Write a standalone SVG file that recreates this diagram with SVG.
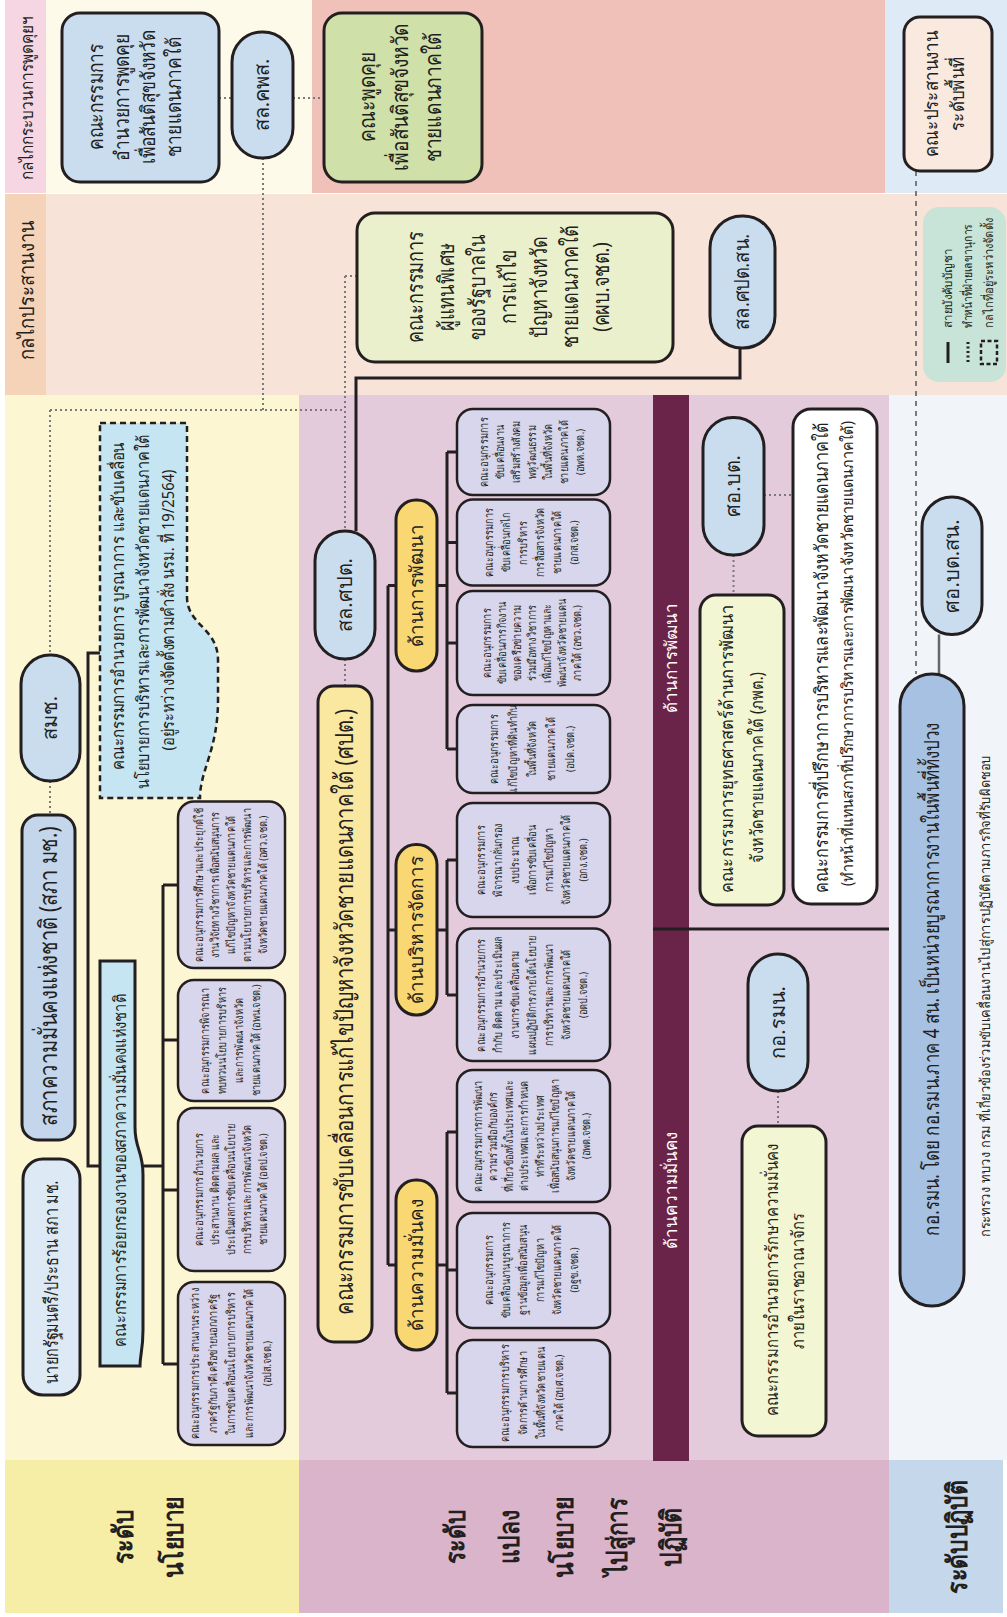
<svg xmlns="http://www.w3.org/2000/svg" width="1007" height="1617" viewBox="0 0 1007 1617">
<style>
.t{font-family:"Noto Sans","DejaVu Sans",sans-serif;text-anchor:middle;fill:#231F20}
.st{text-anchor:start}
.b{font-weight:bold}
.w{fill:#ffffff}
.bx{stroke:#231F20;stroke-width:3}
.pill{fill:#C9DDEE;stroke:#231F20;stroke-width:3}
.pur{fill:#D8D6EC;stroke:#231F20;stroke-width:2.5}
.dan{fill:#F9D874;stroke:#231F20;stroke-width:3}
.ln{stroke:#231F20;stroke-width:3;fill:none}
.dot{stroke:#7a7a7a;stroke-width:2;stroke-dasharray:2 3;fill:none}
.dash{stroke:#7a7a7a;stroke-width:2;stroke-dasharray:5 5;fill:none}
</style>
<rect width="1007" height="1617" fill="#ffffff"/>
<g id="bands">
<rect x="5" y="0" width="41" height="193" fill="#F6D6E2"/>
<rect x="46" y="0" width="266" height="193" fill="#FDFAEA"/>
<rect x="312" y="0" width="573" height="193" fill="#F0C1B8"/>
<rect x="885" y="0" width="122" height="193" fill="#DEEBF6"/>
<rect x="5" y="194" width="41" height="201" fill="#F4D3B9"/>
<rect x="46" y="194" width="961" height="201" fill="#F8E3D9"/>
<rect x="5" y="395" width="294" height="1065" fill="#FDF6D3"/>
<rect x="299" y="395" width="590" height="1065" fill="#E4CBDB"/>
<rect x="889" y="395" width="118" height="1065" fill="#F1F5FA"/>
<rect x="5" y="1460" width="294" height="153" fill="#F6EDA7"/>
<rect x="299" y="1460" width="590" height="153" fill="#D9B4CA"/>
<rect x="889" y="1460" width="114" height="153" fill="#C5D7EB"/>
<rect x="653" y="395" width="36" height="1066" fill="#6B2449"/>
<text class="t" transform="translate(27,98) rotate(-90)" font-size="17" y="5.6" textLength="164" lengthAdjust="spacingAndGlyphs">กลไกกระบวนการพูดคุยฯ</text>
<text class="t" transform="translate(27,290) rotate(-90)" font-size="20" y="6.6" textLength="140" lengthAdjust="spacingAndGlyphs">กลไกประสานงาน</text>
<text class="t w" transform="translate(671,658) rotate(-90)" font-size="17"><tspan x="0" y="5.6">ด้านการพัฒนา</tspan></text>
<text class="t w" transform="translate(671,1190) rotate(-90)" font-size="17"><tspan x="0" y="5.6">ด้านความมั่นคง</tspan></text>
<text class="t b" transform="translate(149,1537) rotate(-90) scale(0.82,1)" font-size="28"><tspan x="0" y="-15.8">ระดับ</tspan><tspan x="0" y="34.2">นโยบาย</tspan></text>
<text class="t b" transform="translate(564,1537) rotate(-90) scale(0.82,1)" font-size="28"><tspan x="0" y="-98.8">ระดับ</tspan><tspan x="0" y="-44.8">แปลง</tspan><tspan x="0" y="9.2">นโยบาย</tspan><tspan x="0" y="63.2">ไปสู่การ</tspan><tspan x="0" y="117.2">ปฏิบัติ</tspan></text>
<text class="t b" transform="translate(958,1537) rotate(-90) scale(0.82,1)" font-size="28"><tspan x="0" y="9.2">ระดับปฏิบัติ</tspan></text>
</g>
<g id="connectors">
<line x1="653" y1="929" x2="889" y2="929" class="ln"/>
<path class="dot" d="M219,98 H232 M293,98 H324 M263,158 V410 M50,410 H345 M345,276 V531 M345,276 H357 M50,410 V655 M50,781 V815 M345,659 V686 M764,495 H793 M733.5,555 V595 M778,1091 V1126"/>
<path class="dash" d="M916,171 V674"/>
<path d="M939,634.5 V674" stroke="#666" stroke-width="2.5" fill="none"/>
<path class="ln" d="M740,348 V378 H356 V531"/>
<path class="ln" d="M100,653 H88 V1166 H100 M141,1166 H163 M163,885 V1364 M163,885 H178 M163,1040 H178 M163,1190 H178 M163,1364 H178"/>
<path class="ln" d="M388,585.5 V1265 M388,585.5 H396 M388,930 H396 M388,1265 H396"/>
<path class="ln" d="M437,585.5 H447 M447,452 V749 M447,452 H457 M447,542.5 H457 M447,643 H457 M447,749 H457"/>
<path class="ln" d="M437,930 H447 M447,860 V995 M447,860 H457 M447,995 H457"/>
<path class="ln" d="M437,1265 H447 M447,1132 V1393 M447,1132 H457 M447,1270 H457 M447,1393 H457"/>
</g>
<g id="n-committee-dialogue-direct">
<rect x="62" y="13" width="157" height="169" rx="18" fill="#C9DDEE" class="bx"/>
<text class="t" transform="translate(135,97) rotate(-90) scale(0.87,1)" font-size="20"><tspan x="0" y="-32.4">คณะกรรมการ</tspan><tspan x="0" y="-6.4">อำนวยการพูดคุย</tspan><tspan x="0" y="19.6">เพื่อสันติสุขจังหวัด</tspan><tspan x="0" y="45.6">ชายแดนภาคใต้</tspan></text>
</g>
<g id="n-sl-kps">
<rect x="232" y="32" width="61" height="126" rx="30" class="pill"/>
<text class="t" transform="translate(262.5,95) rotate(-90)" font-size="20"><tspan x="0" y="6.6">สล.คพส.</tspan></text>
</g>
<g id="n-dialogue-panel">
<rect x="324" y="13" width="158" height="169" rx="18" fill="#CFE0A8" class="bx"/>
<text class="t" transform="translate(400,97) rotate(-90) scale(0.83,1)" font-size="23"><tspan x="0" y="-25.4">คณะพูดคุย</tspan><tspan x="0" y="7.6">เพื่อสันติสุขจังหวัด</tspan><tspan x="0" y="40.6">ชายแดนภาคใต้</tspan></text>
</g>
<g id="n-area-coord">
<rect x="904" y="17" width="88" height="154" rx="16" fill="#FAE9DE" class="bx"/>
<text class="t" transform="translate(945,94) rotate(-90) scale(0.89,1)" font-size="19"><tspan x="0" y="-6.7">คณะประสานงาน</tspan><tspan x="0" y="19.3">ระดับพื้นที่</tspan></text>
</g>
<g id="n-special-rep">
<rect x="357" y="213" width="316" height="149" rx="18" fill="#EAF0CB" class="bx"/>
<text class="t" transform="translate(509,287) rotate(-90) scale(0.82,1)" font-size="22"><tspan x="0" y="-85.7">คณะกรรมการ</tspan><tspan x="0" y="-54.7">ผู้แทนพิเศษ</tspan><tspan x="0" y="-23.7">ของรัฐบาลใน</tspan><tspan x="0" y="7.3">การแก้ไข</tspan><tspan x="0" y="38.3">ปัญหาจังหวัด</tspan><tspan x="0" y="69.3">ชายแดนภาคใต้</tspan><tspan x="0" y="100.3">(คผบ.จชต.)</tspan></text>
</g>
<g id="n-sl-spt-sn">
<rect x="710" y="216" width="65" height="132" rx="32" class="pill"/>
<text class="t" transform="translate(742.5,282) rotate(-90) scale(0.92,1)" font-size="20"><tspan x="0" y="6.6">สล.ศปต.สน.</tspan></text>
</g>
<g id="n-legend">
<rect x="923" y="207" width="83" height="175" rx="16" fill="#C8E4D9"/>
<path d="M948,342 V363" stroke="#231F20" stroke-width="3"/>
<path d="M968,342 V363" stroke="#231F20" stroke-width="3" stroke-dasharray="2 2.5"/>
<rect x="981" y="341" width="16" height="23" fill="none" stroke="#231F20" stroke-width="2.5" stroke-dasharray="4 2.5"/>
<text class="t st" transform="translate(948,328) rotate(-90)" font-size="12.5" y="4.1" textLength="79" lengthAdjust="spacingAndGlyphs">สายบังคับบัญชา</text>
<text class="t st" transform="translate(968,328) rotate(-90)" font-size="12.5" y="4.1" textLength="104" lengthAdjust="spacingAndGlyphs">ทำหน้าที่ฝ่ายเลขานุการ</text>
<text class="t st" transform="translate(989,328) rotate(-90)" font-size="12.5" y="4.1" textLength="110" lengthAdjust="spacingAndGlyphs">กลไกที่อยู่ระหว่างจัดตั้ง</text>
</g>
<g id="n-smch">
<rect x="21" y="655" width="59" height="126" rx="29" class="pill"/>
<text class="t" transform="translate(50.5,718) rotate(-90)" font-size="20"><tspan x="0" y="6.6">สมช.</tspan></text>
</g>
<g id="n-nsc">
<rect x="22" y="815" width="53" height="325" rx="16" fill="#C3D6EB" class="bx"/>
<text class="t" transform="translate(48.5,976) rotate(-90)" font-size="25" y="8.3" textLength="299" lengthAdjust="spacingAndGlyphs">สภาความมั่นคงแห่งชาติ (สภา มช.)</text>
</g>
<g id="n-pm">
<rect x="23" y="1159" width="57" height="236" rx="20" fill="#DDEAF6" class="bx"/>
<text class="t" transform="translate(51.5,1282) rotate(-90)" font-size="19" y="6.3" textLength="203" lengthAdjust="spacingAndGlyphs">นายกรัฐมนตรี/ประธาน สภา มช.</text>
</g>
<g id="n-policy-exec">
<path d="M100,423 H187 V597 C187,625 218,628 218,660 V700 C218,750 200,770 200,798 H100 Z" fill="#C6E5F3" stroke="#231F20" stroke-width="2.5" stroke-dasharray="6 4"/>
<text class="t" transform="translate(118,606) rotate(-90)" font-size="17" y="5.6" textLength="328" lengthAdjust="spacingAndGlyphs">คณะกรรมการอำนวยการ บูรณาการ และขับเคลื่อน</text>
<text class="t" transform="translate(143,612) rotate(-90)" font-size="17" y="5.6" textLength="354" lengthAdjust="spacingAndGlyphs">นโยบายการบริหารและการพัฒนาจังหวัดชายแดนภาคใต้</text>
<text class="t" transform="translate(168,610) rotate(-90)" font-size="17" y="5.6" textLength="281" lengthAdjust="spacingAndGlyphs" fill="#444">(อยู่ระหว่างจัดตั้งตามคำสั่ง นรม. ที่ 19/2564)</text>
</g>
<g id="n-screening">
<path d="M100,961 H135 V1127 C135,1150 143,1150 143,1175 V1330 C143,1350 140,1355 140,1366 H100 Z" fill="#C6E5F3" class="bx"/>
<text class="t" transform="translate(120,1170) rotate(-90)" font-size="17" y="5.6" textLength="353" lengthAdjust="spacingAndGlyphs">คณะกรรมการร้อยกรองงานของสภาความมั่นคงแห่งชาติ</text>
</g>
<g id="n-p1">
<rect x="178" y="801.5" width="107" height="166.5" rx="16" class="pur"/>
<text class="t" transform="translate(231,885) rotate(-90) scale(0.8,1)" font-size="11.5"><tspan x="0" y="-28.2">คณะอนุกรรมการศึกษาและประยุกต์ใช้</tspan><tspan x="0" y="-12.2">งานวิจัยทางวิชาการเพื่อสนับสนุนการ</tspan><tspan x="0" y="3.8">แก้ไขปัญหาจังหวัดชายแดนภาคใต้</tspan><tspan x="0" y="19.8">ตามนโยบายการบริหารและการพัฒนา</tspan><tspan x="0" y="35.8">จังหวัดชายแดนภาคใต้ (อศว.จชต.)</tspan></text>
</g>
<g id="n-p2">
<rect x="178" y="980" width="107" height="121" rx="16" class="pur"/>
<text class="t" transform="translate(231,1040.5) rotate(-90) scale(0.8,1)" font-size="11.5"><tspan x="0" y="-21.7">คณะอนุกรรมการพิจารณา</tspan><tspan x="0" y="-4.7">ทบทวนนโยบายการบริหาร</tspan><tspan x="0" y="12.3">และการพัฒนาจังหวัด</tspan><tspan x="0" y="29.3">ชายแดนภาคใต้ (อพน.จชต.)</tspan></text>
</g>
<g id="n-p3">
<rect x="178" y="1108" width="107" height="163" rx="16" class="pur"/>
<text class="t" transform="translate(231,1189.5) rotate(-90) scale(0.8,1)" font-size="11.5"><tspan x="0" y="-28.2">คณะอนุกรรมการอำนวยการ</tspan><tspan x="0" y="-12.2">ประสานงาน ติดตามผล และ</tspan><tspan x="0" y="3.8">ประเมินผลการขับเคลื่อนนโยบาย</tspan><tspan x="0" y="19.8">การบริหารและการพัฒนาจังหวัด</tspan><tspan x="0" y="35.8">ชายแดนภาคใต้ (อตป.จชต.)</tspan></text>
</g>
<g id="n-p4">
<rect x="178" y="1282" width="107" height="163" rx="16" class="pur"/>
<text class="t" transform="translate(231,1363.5) rotate(-90) scale(0.8,1)" font-size="11.5"><tspan x="0" y="-32.2">คณะอนุกรรมการประสานงานระหว่าง</tspan><tspan x="0" y="-14.2">ภาครัฐกับภาคีเครือข่ายนอกภาครัฐ</tspan><tspan x="0" y="3.8">ในการขับเคลื่อนนโยบายการบริหาร</tspan><tspan x="0" y="21.8">และการพัฒนาจังหวัดชายแดนภาคใต้</tspan><tspan x="0" y="39.8">(อปส.จชต.)</tspan></text>
</g>
<g id="n-sl-spt">
<rect x="315" y="531" width="60" height="128" rx="30" class="pill"/>
<text class="t" transform="translate(345,595) rotate(-90)" font-size="20"><tspan x="0" y="6.6">สล.ศปต.</tspan></text>
</g>
<g id="n-spt">
<rect x="318" y="686" width="54" height="656" rx="16" fill="#FAE8A0" class="bx"/>
<text class="t" transform="translate(345,1012) rotate(-90)" font-size="25" y="8.3" textLength="606" lengthAdjust="spacingAndGlyphs">คณะกรรมการขับเคลื่อนการแก้ไขปัญหาจังหวัดชายแดนภาคใต้ (ศปต.)</text>
</g>
<g id="n-dev">
<rect x="396" y="500" width="41" height="171" rx="20" class="dan"/>
<text class="t" transform="translate(416.5,585.5) rotate(-90)" font-size="19"><tspan x="0" y="6.3">ด้านการพัฒนา</tspan></text>
</g>
<g id="n-admin">
<rect x="396" y="844.5" width="41" height="170.5" rx="20" class="dan"/>
<text class="t" transform="translate(416.5,930) rotate(-90)" font-size="19"><tspan x="0" y="6.3">ด้านบริหารจัดการ</tspan></text>
</g>
<g id="n-sec">
<rect x="396" y="1180" width="41" height="170" rx="20" class="dan"/>
<text class="t" transform="translate(416.5,1265) rotate(-90)" font-size="19"><tspan x="0" y="6.3">ด้านความมั่นคง</tspan></text>
</g>
<g id="n-a">
<rect x="457" y="409" width="153" height="86" rx="16" class="pur"/>
<text class="t" transform="translate(532,452) rotate(-90) scale(0.8,1)" font-size="11.5"><tspan x="0" y="-44.2">คณะอนุกรรมการ</tspan><tspan x="0" y="-28.2">ขับเคลื่อนงาน</tspan><tspan x="0" y="-12.2">เสริมสร้างสังคม</tspan><tspan x="0" y="3.8">พหุวัฒนธรรม</tspan><tspan x="0" y="19.8">ในพื้นที่จังหวัด</tspan><tspan x="0" y="35.8">ชายแดนภาคใต้</tspan><tspan x="0" y="51.8">(อพห.จชต.)</tspan></text>
</g>
<g id="n-b">
<rect x="457" y="499.5" width="153" height="86" rx="16" class="pur"/>
<text class="t" transform="translate(532,542.5) rotate(-90) scale(0.8,1)" font-size="11.5"><tspan x="0" y="-38.7">คณะอนุกรรมการ</tspan><tspan x="0" y="-21.7">ขับเคลื่อนกลไก</tspan><tspan x="0" y="-4.7">การบริหาร</tspan><tspan x="0" y="12.3">การสื่อสารจังหวัด</tspan><tspan x="0" y="29.3">ชายแดนภาคใต้</tspan><tspan x="0" y="46.3">(อกส.จชต.)</tspan></text>
</g>
<g id="n-c">
<rect x="457" y="591" width="153" height="104" rx="16" class="pur"/>
<text class="t" transform="translate(532,643) rotate(-90) scale(0.8,1)" font-size="11.5"><tspan x="0" y="-41.2">คณะอนุกรรมการ</tspan><tspan x="0" y="-26.2">ขับเคลื่อนภารกิจงาน</tspan><tspan x="0" y="-11.2">ของเครือข่ายความ</tspan><tspan x="0" y="3.8">ร่วมมือทางวิชาการ</tspan><tspan x="0" y="18.8">เพื่อแก้ไขปัญหาและ</tspan><tspan x="0" y="33.8">พัฒนาจังหวัดชายแดน</tspan><tspan x="0" y="48.8">ภาคใต้ (อขว.จชต.)</tspan></text>
</g>
<g id="n-d">
<rect x="457" y="705" width="153" height="88" rx="16" class="pur"/>
<text class="t" transform="translate(532,749) rotate(-90) scale(0.8,1)" font-size="11.5"><tspan x="0" y="-34.2">คณะอนุกรรมการ</tspan><tspan x="0" y="-15.2">แก้ไขปัญหาที่ดินทำกิน</tspan><tspan x="0" y="3.8">ในพื้นที่จังหวัด</tspan><tspan x="0" y="22.8">ชายแดนภาคใต้</tspan><tspan x="0" y="41.8">(อปด.จชต.)</tspan></text>
</g>
<g id="n-e">
<rect x="457" y="803" width="153" height="114" rx="16" class="pur"/>
<text class="t" transform="translate(532,860) rotate(-90) scale(0.8,1)" font-size="11.5"><tspan x="0" y="-47.2">คณะอนุกรรมการ</tspan><tspan x="0" y="-30.2">พิจารณากลั่นกรอง</tspan><tspan x="0" y="-13.2">งบประมาณ</tspan><tspan x="0" y="3.8">เพื่อการขับเคลื่อน</tspan><tspan x="0" y="20.8">การแก้ไขปัญหา</tspan><tspan x="0" y="37.8">จังหวัดชายแดนภาคใต้</tspan><tspan x="0" y="54.8">(อกง.จชต.)</tspan></text>
</g>
<g id="n-f">
<rect x="457" y="928.6" width="153" height="132.4" rx="16" class="pur"/>
<text class="t" transform="translate(532,995) rotate(-90) scale(0.8,1)" font-size="11.5"><tspan x="0" y="-47.2">คณะอนุกรรมการอำนวยการ</tspan><tspan x="0" y="-30.2">กำกับ ติดตาม และประเมินผล</tspan><tspan x="0" y="-13.2">งานการขับเคลื่อนตาม</tspan><tspan x="0" y="3.8">แผนปฏิบัติการภายใต้นโยบาย</tspan><tspan x="0" y="20.8">การบริหารและการพัฒนา</tspan><tspan x="0" y="37.8">จังหวัดชายแดนภาคใต้</tspan><tspan x="0" y="54.8">(อตป.จชต.)</tspan></text>
</g>
<g id="n-g">
<rect x="457" y="1070" width="153" height="132" rx="16" class="pur"/>
<text class="t" transform="translate(532,1136) rotate(-90) scale(0.8,1)" font-size="11.5"><tspan x="0" y="-50.45">คณะอนุกรรมการการพัฒนา</tspan><tspan x="0" y="-34.95">ความร่วมมือกับองค์กร</tspan><tspan x="0" y="-19.45">ที่เกี่ยวข้องทั้งในประเทศและ</tspan><tspan x="0" y="-3.95">ต่างประเทศและการกำหนด</tspan><tspan x="0" y="11.55">ท่าทีระหว่างประเทศ</tspan><tspan x="0" y="27.05">เพื่อสนับสนุนการแก้ไขปัญหา</tspan><tspan x="0" y="42.55">จังหวัดชายแดนภาคใต้</tspan><tspan x="0" y="58.05">(อพต.จชต.)</tspan></text>
</g>
<g id="n-h">
<rect x="457" y="1213" width="153" height="115" rx="16" class="pur"/>
<text class="t" transform="translate(532,1270) rotate(-90) scale(0.8,1)" font-size="11.5"><tspan x="0" y="-38.7">คณะอนุกรรมการ</tspan><tspan x="0" y="-21.7">ขับเคลื่อนงานบูรณาการ</tspan><tspan x="0" y="-4.7">ฐานข้อมูลเพื่อสนับสนุน</tspan><tspan x="0" y="12.3">การแก้ไขปัญหา</tspan><tspan x="0" y="29.3">จังหวัดชายแดนภาคใต้</tspan><tspan x="0" y="46.3">(อฐข.จชต.)</tspan></text>
</g>
<g id="n-i">
<rect x="457" y="1340" width="153" height="107" rx="16" class="pur"/>
<text class="t" transform="translate(532,1393) rotate(-90) scale(0.8,1)" font-size="11.5"><tspan x="0" y="-23.2">คณะอนุกรรมการบริหาร</tspan><tspan x="0" y="-5.2">จัดการด้านการศึกษา</tspan><tspan x="0" y="12.8">ในพื้นที่จังหวัดชายแดน</tspan><tspan x="0" y="30.8">ภาคใต้ (อบศ.จชต.)</tspan></text>
</g>
<g id="n-sobt">
<rect x="703" y="417.5" width="61" height="137.5" rx="30" class="pill"/>
<text class="t" transform="translate(733.5,486) rotate(-90)" font-size="20"><tspan x="0" y="6.6">ศอ.บต.</tspan></text>
</g>
<g id="n-strategy">
<rect x="700" y="595" width="84" height="310" rx="16" fill="#F2F6D3" class="bx"/>
<text class="t" transform="translate(727,749) rotate(-90)" font-size="18" y="5.9" textLength="288" lengthAdjust="spacingAndGlyphs">คณะกรรมการยุทธศาสตร์ด้านการพัฒนา</text>
<text class="t" transform="translate(757,767.5) rotate(-90)" font-size="18" y="5.9" textLength="191" lengthAdjust="spacingAndGlyphs">จังหวัดชายแดนภาคใต้ (ภพต.)</text>
</g>
<g id="n-advisory">
<rect x="793" y="409" width="84" height="495" rx="18" fill="#ffffff" class="bx"/>
<text class="t" transform="translate(822,658) rotate(-90)" font-size="19" y="6.3" textLength="470" lengthAdjust="spacingAndGlyphs">คณะกรรมการที่ปรึกษาการบริหารและพัฒนาจังหวัดชายแดนภาคใต้</text>
<text class="t" transform="translate(848,653.5) rotate(-90)" font-size="15.5" y="5.1" textLength="465" lengthAdjust="spacingAndGlyphs">(ทำหน้าที่แทนสภาที่ปรึกษาการบริหารและการพัฒนาจังหวัดชายแดนภาคใต้)</text>
</g>
<g id="n-isoc">
<rect x="748" y="954" width="60" height="137" rx="30" class="pill"/>
<text class="t" transform="translate(778,1022.5) rotate(-90)" font-size="20"><tspan x="0" y="6.6">กอ.รมน.</tspan></text>
</g>
<g id="n-security-board">
<rect x="742" y="1126" width="84" height="310" rx="16" fill="#F2F6D3" class="bx"/>
<text class="t" transform="translate(772,1280) rotate(-90)" font-size="18" y="5.9" textLength="272" lengthAdjust="spacingAndGlyphs">คณะกรรมการอำนวยการรักษาความมั่นคง</text>
<text class="t" transform="translate(798,1281) rotate(-90)" font-size="18" y="5.9" textLength="136" lengthAdjust="spacingAndGlyphs">ภายในราชอาณาจักร</text>
</g>
<g id="n-sobt-sn">
<rect x="922" y="497" width="60" height="137.5" rx="30" class="pill"/>
<text class="t" transform="translate(952,566) rotate(-90)" font-size="20"><tspan x="0" y="6.6">ศอ.บต.สน.</tspan></text>
</g>
<g id="n-isoc-region">
<rect x="900" y="674" width="64" height="632" rx="32" fill="#A6C1E1" class="bx"/>
<text class="t" transform="translate(932,979) rotate(-90)" font-size="21" y="6.9" textLength="513" lengthAdjust="spacingAndGlyphs">กอ.รมน. โดย กอ.รมน.ภาค 4 สน. เป็นหน่วยบูรณาการงานในพื้นที่ทั้งปวง</text>
</g>
<g id="n-ministries">
<text class="t st" transform="translate(985,1237) rotate(-90)" font-size="13.5" y="4.5" textLength="482" lengthAdjust="spacingAndGlyphs">กระทรวง ทบวง กรม ที่เกี่ยวข้องร่วมขับเคลื่อนงานไปสู่การปฏิบัติตามภารกิจที่รับผิดชอบ</text>
</g>
</svg>
